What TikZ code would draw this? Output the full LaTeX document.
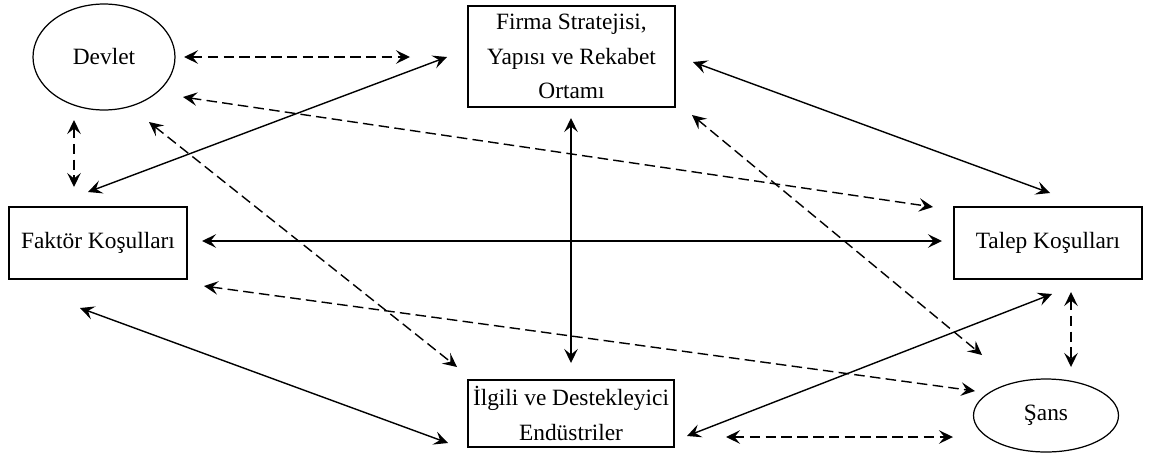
\documentclass[tikz,border=0pt]{standalone}
\usepackage{fontspec}
\setmainfont{Liberation Serif}
\usetikzlibrary{shapes.geometric,arrows.meta}
\begin{document}
\begin{tikzpicture}[x=0.02cm,y=-0.02cm,
  box/.style={draw,line width=0.9pt,inner sep=0pt,align=center,font=\fontsize{13.3}{19.8}\selectfont},
  oval/.style={draw,ellipse,line width=0.7pt,inner sep=0pt,font=\fontsize{13.3}{16}\selectfont},
  tip/.style={Stealth[length=2.8mm,width=2.7mm,inset=1.1mm]},
  link/.style={line width=0.8pt,{Stealth[length=2.8mm,width=2.7mm,inset=1.1mm]}-{Stealth[length=2.8mm,width=2.7mm,inset=1.1mm]}},
  dlink/.style={link,dash pattern=on 6pt off 3pt}]
\useasboundingbox (0,0) rectangle (1152,454);
\node[oval,minimum width=2.84cm,minimum height=2.12cm] (devlet) at (104,57) {Devlet};
\node[box,minimum width=4.14cm,minimum height=2.02cm] (firma) at (571.5,56.5) {Firma Stratejisi,\\Yapısı ve Rekabet\\Ortamı};
\node[box,minimum width=3.56cm,minimum height=1.44cm] (faktor) at (98,243) {Faktör Koşulları};
\node[box,minimum width=3.76cm,minimum height=1.44cm] (talep) at (1048,243) {Talep Koşulları};
\node[box,minimum width=4.12cm,minimum height=1.34cm] (ilgili) at (571,413.5) {İlgili ve Destekleyici\\Endüstriler};
\node[oval,minimum width=2.9cm,minimum height=1.46cm] (sans) at (1046,415.5) {Şans};
% arrow end points
\coordinate (a1) at (184,57);  \coordinate (a2) at (410,57);
\coordinate (b1) at (88,192);  \coordinate (b2) at (447,57);
\coordinate (c1) at (183,97);  \coordinate (c2) at (933,207);
\coordinate (d1) at (149,122); \coordinate (d2) at (457,367);
\coordinate (e1) at (74,120);  \coordinate (e2) at (74,187);
\coordinate (f1) at (693,62);  \coordinate (f2) at (1050,193);
\coordinate (g1) at (571,118); \coordinate (g2) at (571,363);
\coordinate (h1) at (692,115); \coordinate (h2) at (982,355);
\coordinate (i1) at (202,241); \coordinate (i2) at (942,241);
\coordinate (j1) at (204,286); \coordinate (j2) at (975,391);
\coordinate (k1) at (80,308);  \coordinate (k2) at (448,443);
\coordinate (l1) at (687,436); \coordinate (l2) at (1052,294);
\coordinate (m1) at (726,437); \coordinate (m2) at (953,437);
\coordinate (n1) at (1071,292);\coordinate (n2) at (1071,367);
\draw[dlink] (a1) -- (a2);
\draw[link]  (b1) -- (b2);
\draw[dlink] (c1) -- (c2);
\draw[dlink] (d1) -- (d2);
\draw[dlink] (e1) -- (e2);
\draw[link]  (f1) -- (f2);
\draw[link]  (g1) -- (g2);
\draw[dlink] (h1) -- (h2);
\draw[link]  (i1) -- (i2);
\draw[dlink] (j1) -- (j2);
\draw[link]  (k1) -- (k2);
\draw[link]  (l1) -- (l2);
\draw[dlink] (m1) -- (m2);
\draw[dlink] (n1) -- (n2);
\end{tikzpicture}
\end{document}
